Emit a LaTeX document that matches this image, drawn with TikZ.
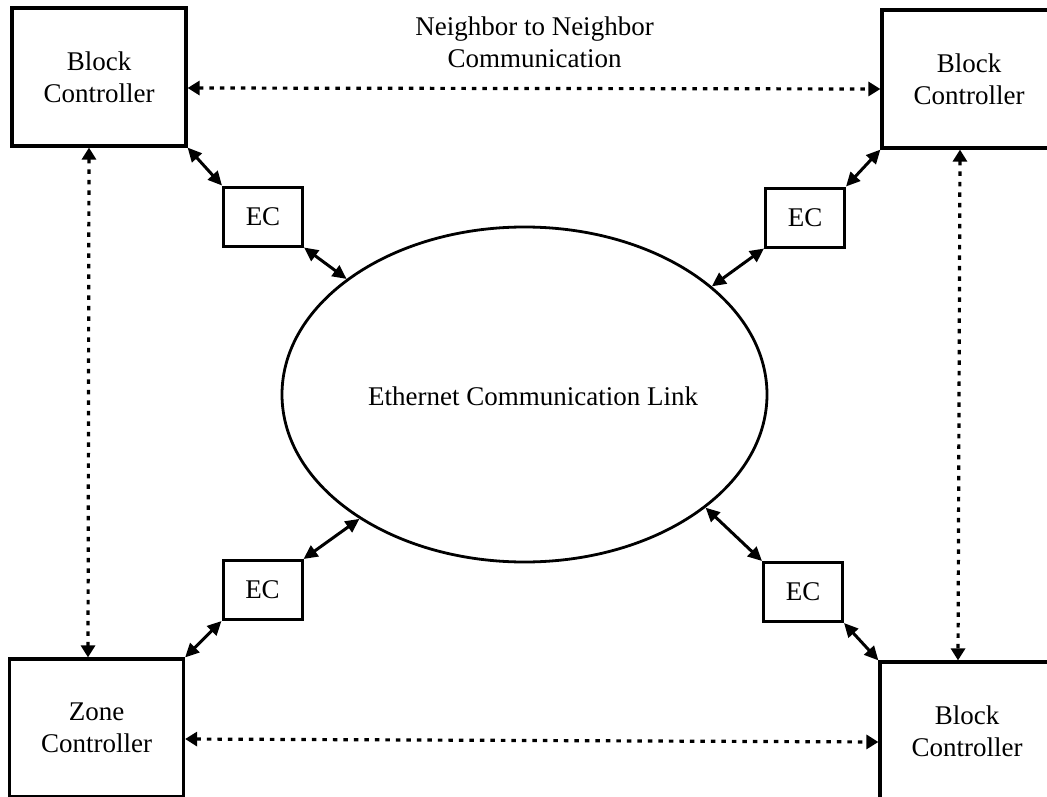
\documentclass[tikz,border=0pt]{standalone}
\usepackage{fontspec}
\setmainfont{Liberation Serif}
\usetikzlibrary{arrows.meta,shapes.geometric}
\begin{document}
\begin{tikzpicture}[x=1pt,y=-1pt,
  every node/.style={font=\fontsize{27}{32}\selectfont, align=center, inner sep=0pt},
  ctrl/.style={draw, line width=3.2pt, minimum width=174pt, minimum height=138pt},
  ecbox/.style={draw, line width=3pt, minimum width=79pt, minimum height=59pt},
  link/.style={draw, ellipse, line width=2.8pt, minimum width=485pt, minimum height=335pt},
  solidarrow/.style={line width=3pt, {Triangle[length=14pt,width=13pt]}-{Triangle[length=14pt,width=13pt]}},
  dotarrow/.style={line width=3.2pt, dash pattern=on 4.5pt off 6pt, {Triangle[length=12pt,width=14pt]}-{Triangle[length=12pt,width=14pt]}}]
  \useasboundingbox (0,0) rectangle (1047,797);
  \clip (0,0) rectangle (1047,797);

  % controllers at the four corners
  \node[ctrl] (tl) at (99,77) {Block\\Controller};
  \node[ctrl] (tr) at (969,79) {Block\\Controller};
  \node[ctrl] (bl) at (96.5,728) {Zone\\Controller};
  \node[ctrl] (br) at (967,731) {Block\\Controller};

  % ethernet converters
  \node[ecbox] (etl) at (263,216.5) {EC};
  \node[ecbox] (etr) at (805,217.5) {EC};
  \node[ecbox] (ebl) at (262.5,590) {EC};
  \node[ecbox] (ebr) at (803,592) {EC};

  % shared network
  \node[link] (net) at (524.5,394.5) {};
  \node (netlabel) at (533,396) {Ethernet Communication Link};

  \node (nlabel) at (534.5,42) {Neighbor to Neighbor\\Communication};

  % neighbor links
  \draw[dotarrow] ([yshift=-11pt]tl.east) -- ([yshift=-10pt]tr.west);
  \draw[dotarrow] ([yshift=-11pt]bl.east) -- ([yshift=-11pt]br.west);
  \draw[dotarrow] ([xshift=-10pt]tl.south) -- ([xshift=-8.5pt]bl.north);
  \draw[dotarrow] ([xshift=-9pt]tr.south) -- ([xshift=-9pt]br.north);

  % controller to converter
  \draw[solidarrow] (tl.south east) -- (etl.north west);
  \draw[solidarrow] (tr.south west) -- (etr.north east);
  \draw[solidarrow] (bl.north east) -- (ebl.south west);
  \draw[solidarrow] (br.north west) -- (ebr.south east);

  % converter to network
  \draw[solidarrow] (etl.south east) -- (net.147.5);
  \draw[solidarrow] (etr.south west) -- (net.30.7);
  \draw[solidarrow] (ebl.north east) -- (net.217.4);
  \draw[solidarrow] (ebr.north west) -- (net.328.8);
\end{tikzpicture}
\end{document}
